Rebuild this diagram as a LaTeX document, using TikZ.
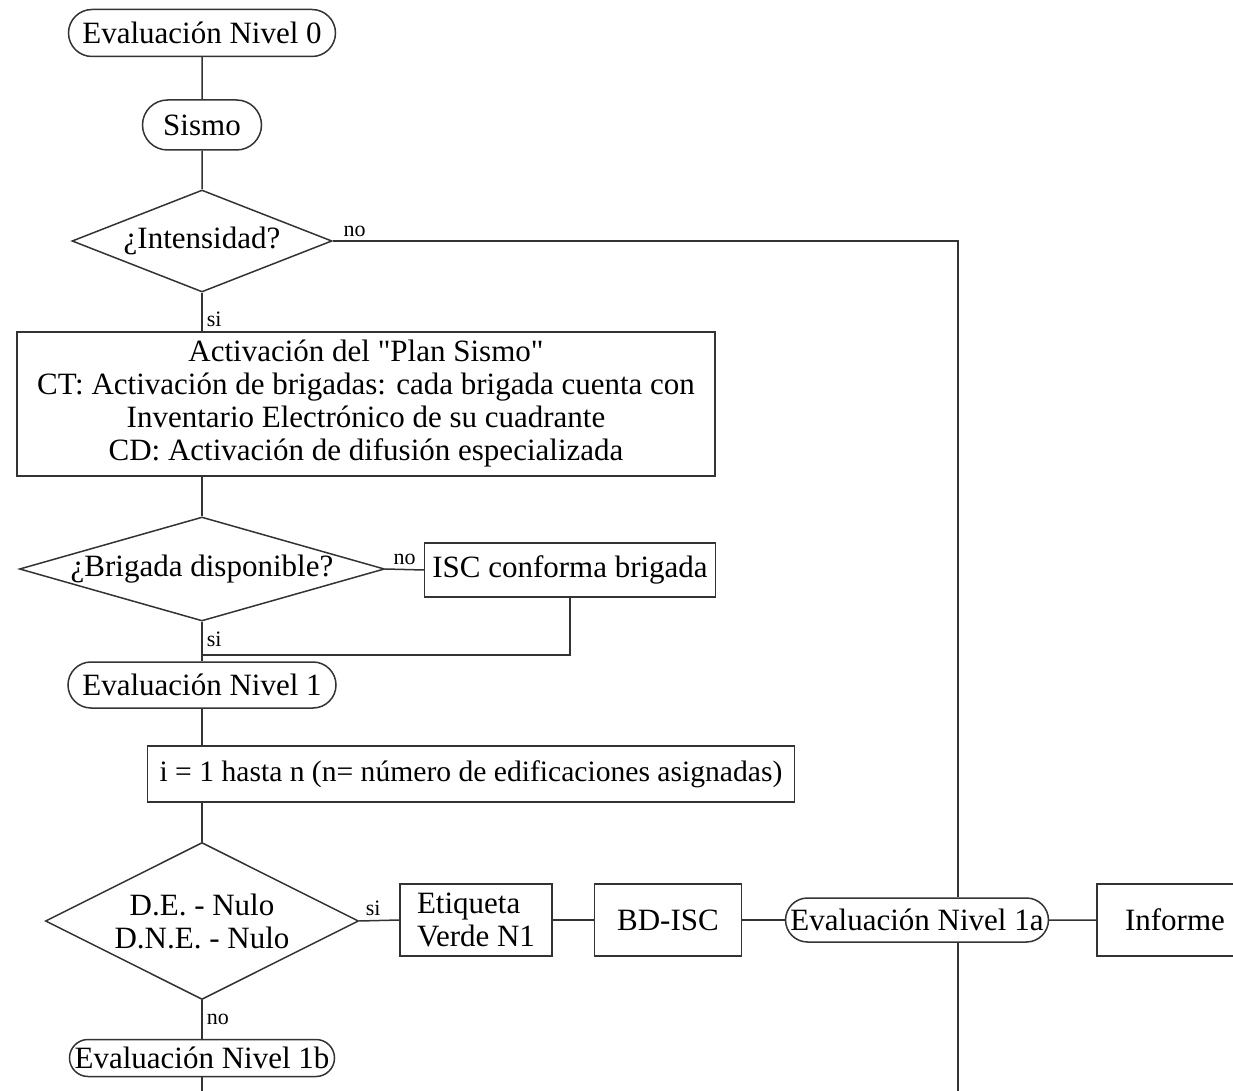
\documentclass[tikz,border=0pt]{standalone}
\usepackage{fontspec}
\setmainfont{Liberation Serif}
\usetikzlibrary{shapes.geometric,shapes.misc}

\begin{document}
\begin{tikzpicture}[x=0.5pt,y=-0.5pt]
        \clip (0,0) rectangle (1233,1091);

        \tikzstyle{every path}=[line width=0.75pt]
        \tikzstyle{every node}=[font=\fontsize{15.5}{16.5}\selectfont,inner sep=1pt]

        \tikzstyle{term}=[draw=black!80,rounded rectangle]
        \tikzstyle{proc}=[draw=black!80,rectangle,align=center]
        \tikzstyle{dec}=[draw=black!80,diamond,align=center,inner sep=0pt]
        \tikzstyle{lbl}=[draw=none,inner sep=2pt,font=\fontsize{11}{12}\selectfont]
        \tikzstyle{conn}=[draw=black!80]

        % main column
        \node [term,minimum width=135.5pt,minimum height=23.5pt] (n0) at (202,33) {Evaluación Nivel 0};
        \node [term,minimum width=61.5pt,minimum height=25pt] (sismo) at (202,125) {Sismo};
        \node [dec,aspect=2.55,minimum width=130pt,minimum height=51pt] (intens) at (202,241) {¿Intensidad?};
        \node [proc,minimum width=349pt,minimum height=72pt] (plan) at (366,404)
            {Activación del \textquotedbl Plan Sismo\textquotedbl\\CT: Activación de brigadas: cada brigada cuenta con\\Inventario Electrónico de su cuadrante\\CD: Activación de difusión especializada};
        \node [dec,aspect=3.5,minimum width=182.5pt,minimum height=52pt] (brig) at (202,569) {¿Brigada disponible?};
        \node [proc,minimum width=145.5pt,minimum height=27pt] (isc) at (570,570) {ISC conforma brigada};
        \node [term,minimum width=136pt,minimum height=23pt] (n1) at (202,685) {Evaluación Nivel 1};
        \node [proc,minimum width=323.5pt,minimum height=28pt,font=\fontsize{14.8}{16}\selectfont] (loop) at (471,774)
            {i = 1 hasta n (n= número de edificaciones asignadas)};
        \node [dec,aspect=2,minimum width=156.5pt,minimum height=78.5pt] (nulo) at (202,921) {D.E. - Nulo\\D.N.E. - Nulo};
        \node [term,minimum width=134.5pt,minimum height=18.5pt] (n1b) at (202,1058) {Evaluación Nivel 1b};

        % row
        \node [proc,align=left,minimum width=76pt,minimum height=36pt] (verde) at (476,920) {Etiqueta\\Verde N1};
        \node [proc,minimum width=73.5pt,minimum height=36pt] (bd) at (668,920) {BD-ISC};
        \node [term,minimum width=130pt,minimum height=22pt] (n1a) at (917,920) {Evaluación Nivel 1a};
        \node [proc,minimum width=78pt,minimum height=36pt] (inf) at (1175,920) {Informe};

        \coordinate (turn) at (958,241);
        \coordinate (join) at (202,655);
        \coordinate (down) at (958,1091);
        \coordinate (down1b) at (202,1091);

        \draw [conn] (n0) -- (sismo);
        \draw [conn] (sismo) -- (intens);
        \draw [conn] (intens.east) -- node [lbl,above,pos=0.035] {no} (turn) -- (turn |- n1a.north);
        \draw [conn] (intens.south) -- node [lbl,right,pos=0.7] {si} (intens.south |- plan.north);
        \draw [conn] (plan.south -| brig.north) -- (brig.north);
        \draw [conn] (brig.east) -- node [lbl,above] {no} (isc.west);
        \draw [conn] (brig.south) -- node [lbl,right,pos=0.45] {si} (n1.north);
        \draw [conn] (isc.south) |- (join);
        \draw [conn] (n1.south) -- (n1.south |- loop.north);
        \draw [conn] (loop.south -| nulo.north) -- (nulo.north);
        \draw [conn] (nulo.east) -- node [lbl,above,pos=0.35] {si} (verde.west);
        \draw [conn] (verde) -- (bd);
        \draw [conn] (bd) -- (n1a);
        \draw [conn] (n1a) -- (inf);
        \draw [conn] (turn |- n1a.south) -- (down);
        \draw [conn] (nulo.south) -- node [lbl,right] {no} (n1b.north);
        \draw [conn] (n1b.south) -- (down1b);
\end{tikzpicture}
\end{document}
